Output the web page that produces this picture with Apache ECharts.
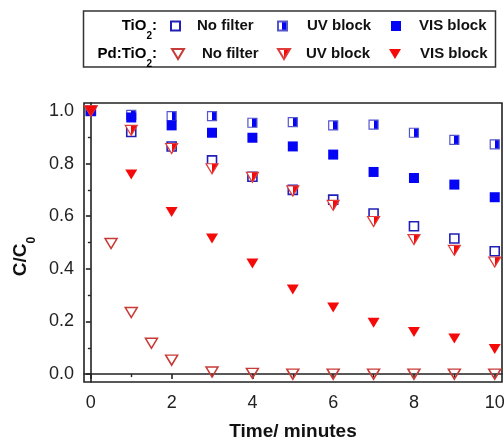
<!DOCTYPE html>
<html>
<head>
<meta charset="utf-8">
<script src="https://cdn.jsdelivr.net/npm/echarts@6/dist/echarts.min.js"></script>
<style>
html,body{margin:0;padding:0;background:#fff;}
#chart{width:504px;height:439px;}
</style>
</head>
<body>
<div id="chart"></div>
<script>
// ---- data ----
const times = [0, 1, 2, 3, 4, 5, 6, 7, 8, 9, 10];
const pdNoFilterTimes = [0, 0.5, 1, 1.5, 2, 3, 4, 5, 6, 7, 8, 9, 10];
const tio2NoFilter = [1.0, 0.92, 0.865, 0.812, 0.75, 0.70, 0.663, 0.61, 0.562, 0.515, 0.467];
const tio2UVBlock = [1.0, 0.985, 0.98, 0.98, 0.955, 0.957, 0.945, 0.948, 0.917, 0.89, 0.873];
const tio2VISBlock = [1.0, 0.975, 0.945, 0.917, 0.898, 0.865, 0.834, 0.768, 0.745, 0.72, 0.672];
const pdNoFilter = [1.0, 0.496, 0.234, 0.117, 0.053, 0.008, 0.003, 0.0, 0.0, 0.0, 0.0, 0.0, 0.0];
const pdUVBlock = [1.0, 0.926, 0.857, 0.78, 0.748, 0.696, 0.641, 0.58, 0.511, 0.47, 0.426];
const pdVISBlock = [1.0, 0.758, 0.616, 0.515, 0.42, 0.321, 0.253, 0.195, 0.16, 0.135, 0.095];
const xMajorTicks = [0, 2, 4, 6, 8, 10];
const xMinorTicks = [1, 3, 5, 7, 9];
const yMajorTicks = [0.0, 0.2, 0.4, 0.6, 0.8, 1.0];
const yMinorTicks = [0.1, 0.3, 0.5, 0.7, 0.9];
const filterNames = ['No filter', 'UV block', 'VIS block'];

// ---- styles ----
const BLUE = '#0505f5';
const RED = '#f50a0a';
const OPEN_BLUE = '#2020b8';
const OPEN_RED = '#c83a35';
const FONT = 'Liberation Sans, Arial, sans-serif';
const TRI = 'path://M0,0L12,0L6,10Z';
function half(c) {
  return {type: 'linear', x: 0, y: 0, x2: 1, y2: 0, colorStops: [
    {offset: 0, color: '#ffffff'}, {offset: 0.5, color: '#ffffff'},
    {offset: 0.5, color: c}, {offset: 1, color: c}]};
}
function pairs(xs, ys) { return ys.map((v, i) => [xs[i], v]); }

const seriesDefs = [
  {name: 'TiO2 ' + filterNames[0], x: times, y: tio2NoFilter, symbol: 'rect', size: 9, style: {color: 'rgba(255,255,255,0)', borderColor: OPEN_BLUE, borderWidth: 1.6}},
  {name: 'TiO2 ' + filterNames[1], x: times, y: tio2UVBlock, symbol: 'rect', size: 9, style: {color: half(BLUE), borderColor: '#5555cc', borderWidth: 1.2}},
  {name: 'TiO2 ' + filterNames[2], x: times, y: tio2VISBlock, symbol: 'rect', size: 10, style: {color: BLUE, borderWidth: 0}},
  {name: 'Pd ' + filterNames[0], x: pdNoFilterTimes, y: pdNoFilter, symbol: TRI, size: [12, 10], style: {color: 'rgba(255,255,255,0)', borderColor: OPEN_RED, borderWidth: 1.5}},
  {name: 'Pd ' + filterNames[1], x: times, y: pdUVBlock, symbol: TRI, size: [12, 10], style: {color: half(RED), borderColor: '#e03c3c', borderWidth: 1.2}},
  {name: 'Pd ' + filterNames[2], x: times, y: pdVISBlock, symbol: TRI, size: [12, 10], style: {color: RED, borderWidth: 0}}
];

const series = seriesDefs.map(d => ({
  type: 'scatter', name: d.name, data: pairs(d.x, d.y),
  symbol: d.symbol, symbolSize: d.size, itemStyle: Object.assign({opacity: 1}, d.style),
  xAxisIndex: 0, yAxisIndex: 0, emphasis: {disabled: true}, animation: false
}));

// legend positions (icon left, row center)
const legendIconLeft = [[170, 277, 391], [171, 277, 389]];
const legendTextPad = [[12, 15, 13], [13, 11, 14]];
const rowCenter = [26, 54];
const legends = [];
seriesDefs.forEach((d, i) => {
  const r = i < 3 ? 0 : 1, c = i % 3;
  const w = Array.isArray(d.size) ? d.size[0] : d.size;
  const h = Array.isArray(d.size) ? d.size[1] : d.size;
  legends.push({
    data: [d.name], left: legendIconLeft[r][c], top: rowCenter[r] - 9,
    padding: 0, itemWidth: w, itemHeight: h, selectedMode: false,
    formatter: n => n.replace(/^(TiO2|Pd) /, ''),
    itemStyle: {opacity: 1},
    textStyle: {fontFamily: FONT, fontSize: 15, fontWeight: 'bold', color: '#111', lineHeight: 18, padding: [0, 0, 0, legendTextPad[r][c]]}
  });
});

const subRich = {
  a: {fontFamily: FONT, fontSize: 15, fontWeight: 'bold', color: '#111', lineHeight: 30, verticalAlign: 'middle'},
  s: {fontFamily: FONT, fontSize: 10, fontWeight: 'bold', color: '#111', lineHeight: 10, verticalAlign: 'bottom'}
};

const chart = echarts.init(document.getElementById('chart'), null, {renderer: 'canvas'});
const axisLine = {show: true, lineStyle: {color: '#222', width: 1.6}};
chart.setOption({
  backgroundColor: '#ffffff',
  animation: false,
  grid: {left: 84, right: 2, top: 103, bottom: 57, containLabel: false, outerBoundsMode: 'none',
         show: true, borderColor: '#222', borderWidth: 1.6, backgroundColor: 'transparent'},
  legend: legends,
  xAxis: [
    {type: 'value', min: -0.17, max: 10.18, position: 'bottom', axisLine: axisLine,
     splitLine: {show: false},
     axisTick: {show: true, length: 5, inside: false, customValues: xMajorTicks, lineStyle: {color: '#222', width: 1.6}},
     axisLabel: {customValues: xMajorTicks, margin: 12, fontFamily: FONT, fontSize: 18, color: '#222'},
     name: 'Time/ minutes', nameLocation: 'middle', nameGap: 40,
     nameTextStyle: {fontFamily: FONT, fontSize: 19, fontWeight: 'bold', color: '#111'}},
    {type: 'value', min: -0.17, max: 10.18, position: 'bottom', axisLine: {show: false},
     splitLine: {show: false},
     axisTick: {show: true, length: 3, customValues: xMinorTicks, lineStyle: {color: '#222', width: 1.4}},
     axisLabel: {show: false}}
  ],
  yAxis: [
    {type: 'value', min: -0.03, max: 1.03, position: 'left', axisLine: axisLine,
     splitLine: {show: false},
     axisTick: {show: true, length: 5, customValues: yMajorTicks, lineStyle: {color: '#222', width: 1.6}},
     axisLabel: {customValues: yMajorTicks, margin: 10, fontFamily: FONT, fontSize: 18, color: '#222',
                 formatter: v => v.toFixed(1)},
     name: '{c|C/C}{s|0}', nameLocation: 'middle', nameGap: 44, nameRotate: 90,
     nameTextStyle: {padding: [0, 28, 0, 0], rich: {
       c: {fontFamily: FONT, fontSize: 19, fontWeight: 'bold', color: '#111', lineHeight: 34, verticalAlign: 'middle'},
       s: {fontFamily: FONT, fontSize: 12, fontWeight: 'bold', color: '#111', lineHeight: 12, verticalAlign: 'bottom'}}}},
    {type: 'value', min: -0.03, max: 1.03, position: 'left', axisLine: {show: false},
     splitLine: {show: false},
     axisTick: {show: true, length: 3, customValues: yMinorTicks, lineStyle: {color: '#222', width: 1.4}},
     axisLabel: {show: false}}
  ],
  graphic: [
    {type: 'rect', shape: {x: 83.5, y: 11, width: 412, height: 56}, style: {fill: 'transparent', stroke: '#333', lineWidth: 1.5}, z: 10},
    {type: 'text', x: 157, y: rowCenter[0], style: {text: '{a|TiO}{s|2}{a|:}', rich: subRich, align: 'right', verticalAlign: 'middle'}, z: 10},
    {type: 'text', x: 157, y: rowCenter[1], style: {text: '{a|Pd:TiO}{s|2}{a|:}', rich: subRich, align: 'right', verticalAlign: 'middle'}, z: 10}
  ],
  series: series
});
</script>
</body>
</html>
